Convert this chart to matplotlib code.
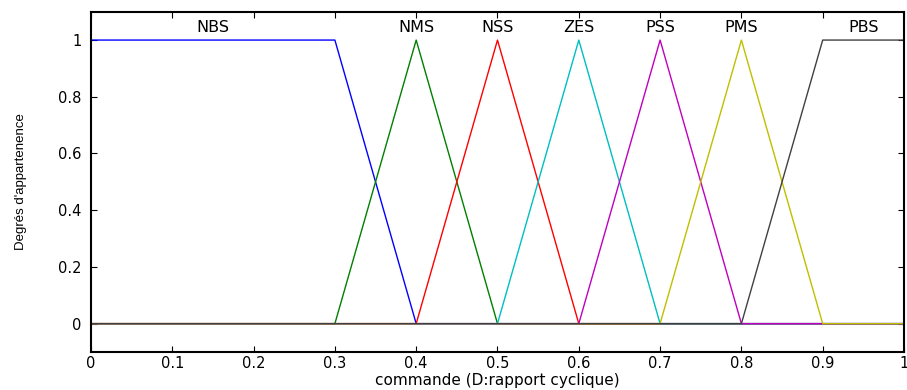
import matplotlib
matplotlib.use('Agg')
import matplotlib.pyplot as plt

# membership functions (vertices of each piecewise-linear curve)
names = ["NBS", "NMS", "NSS", "ZES", "PSS", "PMS", "PBS"]
mf_x = [
    [0, 0.3, 0.4, 1],
    [0, 0.3, 0.4, 0.5, 1],
    [0, 0.4, 0.5, 0.6, 1],
    [0, 0.5, 0.6, 0.7, 1],
    [0, 0.6, 0.7, 0.8, 1],
    [0, 0.7, 0.8, 0.9, 1],
    [0, 0.8, 0.9, 1],
]
mf_y = [
    [1, 1, 0, 0],
    [0, 0, 1, 0, 0],
    [0, 0, 1, 0, 0],
    [0, 0, 1, 0, 0],
    [0, 0, 1, 0, 0],
    [0, 0, 1, 0, 0],
    [0, 0, 1, 1],
]
label_x = [0.15, 0.4, 0.5, 0.6, 0.7, 0.8, 0.95]
colors = ["#0000ff", "#008000", "#ff0000", "#00bfbf", "#bf00bf", "#bfbf00", "#404040"]

plt.rcParams['font.family'] = ['DejaVu Sans']

fig = plt.figure(figsize=(9.07, 3.90), dpi=100)
ax = fig.add_axes([0.1003, 0.0974, 0.8964, 0.8726])

for x, y, c in zip(mf_x, mf_y, colors):
    ax.plot(x, y, color=c, lw=1.0)

for name, lx in zip(names, label_x):
    ax.text(lx, 1.045, name, ha='center', va='center', fontsize=11.5)

ax.set_xlim(0, 1)
ax.set_ylim(-0.1, 1.1)
ax.set_xticks([0, 0.1, 0.2, 0.3, 0.4, 0.5, 0.6, 0.7, 0.8, 0.9, 1])
ax.set_xticklabels(["0", "0.1", "0.2", "0.3", "0.4", "0.5", "0.6", "0.7", "0.8", "0.9", "1"])
ax.set_yticks([0, 0.2, 0.4, 0.6, 0.8, 1])
ax.set_yticklabels(["0", "0.2", "0.4", "0.6", "0.8", "1"])
ax.tick_params(direction='in', top=True, right=True, length=4, labelsize=10.5)
ax.tick_params(axis='x', pad=3)
ax.tick_params(axis='y', pad=7)
for s in ax.spines.values():
    s.set_linewidth(1.5)

ax.set_xlabel("commande (D:rapport cyclique)", fontsize=11, labelpad=1)
ax.set_ylabel("Degrés d'appartenence", fontsize=9.5, labelpad=22,
              family=['Liberation Sans Narrow', 'Liberation Sans', 'DejaVu Sans'])

fig.savefig("out.png", dpi=100)
